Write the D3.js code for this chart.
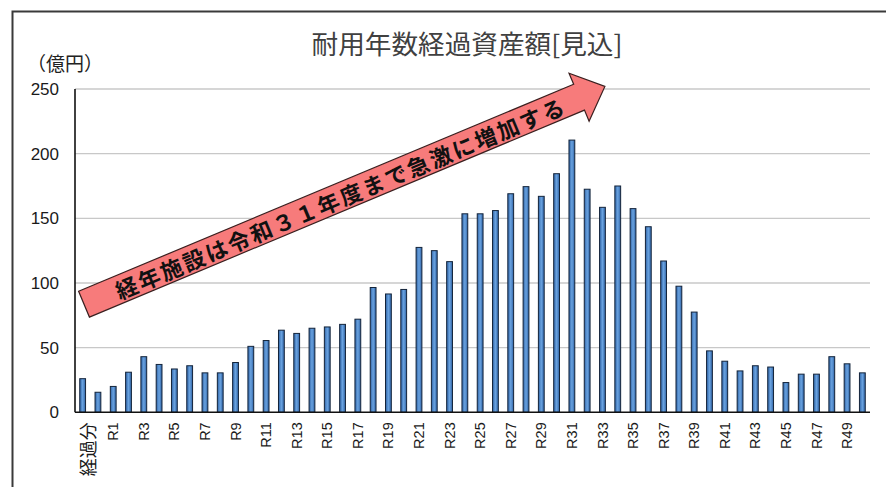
<!DOCTYPE html>
<html><head><meta charset="utf-8">
<script src="https://cdn.jsdelivr.net/npm/d3@7/dist/d3.min.js"></script>
<style>
html,body{margin:0;padding:0;background:#fff;}
svg{display:block;}
</style>
</head><body>
<svg id="chart" width="886" height="487"></svg>
<script>
// ---- data ----
const categories = ["経過分","H30"].concat(d3.range(1, 51).map(i => "R" + i));
const values = [26,15.5,20,31,43,37,33.5,36,30.5,30.5,38.5,51,55.5,63.5,61,65,66,68,72,96.5,91.5,95,127.5,125,116.5,153.5,153.5,156,169,174.5,167,184.5,210.5,172.5,158.5,175,157.5,143.5,117,97.5,77.5,47.5,39.5,32,36,35,23,29.5,29.5,43,37.5,30.5];
const yTicks = [0,50,100,150,200,250];
const shownLabels = categories.filter((c, i) => i % 2 === 0);
const titleText = "耐用年数経過資産額[見込]";
const unitText = "（億円）";
const arrowText = "経年施設は令和３１年度まで急激に増加する";
// arrow endpoints in data space (band position, value)
const arrowFrom = {pos: 0.59, value: 83.6};
const arrowTo = {pos: 34.66, value: 252};

// ---- layout ----
const svg = d3.select("#chart");
const pLeft = 75, pRight = 870, pTop = 89, pBottom = 412.3;

const x = d3.scaleBand().domain(categories).range([pLeft, pRight]).paddingInner(0.62).paddingOuter(0.31);
const y = d3.scaleLinear().domain([0, 250]).range([pBottom, pTop]);
const step = x.step();
const posX = p => pLeft + p * step;

// frame
svg.append("rect").attr("x", 12.5).attr("y", 11.5).attr("width", 900).attr("height", 500)
  .attr("fill", "none").attr("stroke", "#3a3a3a").attr("stroke-width", 2);

// gradient for bars
const defs = svg.append("defs");
const grad = defs.append("linearGradient").attr("id", "barGrad").attr("x1", "0%").attr("x2", "100%").attr("y1", "0%").attr("y2", "0%");
grad.append("stop").attr("offset", "0%").attr("stop-color", "#2f63a6");
grad.append("stop").attr("offset", "50%").attr("stop-color", "#6aa3e0");
grad.append("stop").attr("offset", "100%").attr("stop-color", "#2f63a6");

// title
svg.append("text").attr("x", 467).attr("y", 42)
  .attr("text-anchor", "middle").attr("dominant-baseline", "central")
  .attr("font-family", "'Noto Sans CJK JP', sans-serif").attr("font-size", 26)
  .attr("textLength", 311).attr("lengthAdjust", "spacingAndGlyphs")
  .attr("fill", "#404040").text(titleText);

// unit
svg.append("text").attr("x", 27).attr("y", 62)
  .attr("dominant-baseline", "central")
  .attr("font-family", "'Noto Sans CJK JP', sans-serif").attr("font-size", 19)
  .attr("fill", "#222").text(unitText);

// gridlines
svg.append("g").selectAll("line").data(yTicks.filter(d => d > 0)).join("line")
  .attr("x1", pLeft).attr("x2", pRight)
  .attr("y1", d => y(d)).attr("y2", d => y(d))
  .attr("stroke", "#c8c8c8").attr("stroke-width", 1.3);

// y axis labels
const yAxis = d3.axisLeft(y).tickValues(yTicks).tickSize(0).tickPadding(16);
const yg = svg.append("g").attr("transform", `translate(${pLeft},0)`).call(yAxis);
yg.select(".domain").remove();
yg.selectAll("text").attr("font-family", "'Liberation Sans', Arial, sans-serif")
  .attr("font-size", 17).attr("fill", "#1a1a1a");

// bars
svg.append("g").selectAll("rect").data(values).join("rect")
  .attr("x", (d, i) => x(categories[i]))
  .attr("width", x.bandwidth())
  .attr("y", d => y(d))
  .attr("height", d => y(0) - y(d))
  .attr("fill", "url(#barGrad)")
  .attr("stroke", "#14243a").attr("stroke-width", 1);

// axes lines
svg.append("line").attr("x1", pLeft).attr("x2", pLeft).attr("y1", pTop).attr("y2", pBottom)
  .attr("stroke", "#111").attr("stroke-width", 1.6);
svg.append("line").attr("x1", pLeft).attr("x2", pRight).attr("y1", pBottom).attr("y2", pBottom)
  .attr("stroke", "#111").attr("stroke-width", 1.6);

// x axis labels (rotated)
const xAxis = d3.axisBottom(x).tickValues(shownLabels).tickSize(0).tickPadding(0);
const xg = svg.append("g").attr("transform", `translate(0,${pBottom})`).call(xAxis);
xg.select(".domain").remove();
xg.selectAll("text")
  .attr("font-family", "'Liberation Sans', Arial, 'Noto Sans CJK JP', sans-serif")
  .attr("font-size", d => d === "経過分" ? 18 : 14.5)
  .attr("fill", "#1a1a1a")
  .attr("text-anchor", "end")
  .attr("transform", "rotate(-90)")
  .attr("x", -10).attr("y", d => d === "経過分" ? 6 : 0).attr("dy", "0.35em");

// arrow annotation
const ax0 = posX(arrowFrom.pos), ay0 = y(arrowFrom.value);
const ax1 = posX(arrowTo.pos), ay1 = y(arrowTo.value);
const L = Math.hypot(ax1 - ax0, ay1 - ay0);
const ang = Math.atan2(ay1 - ay0, ax1 - ax0) * 180 / Math.PI;
const sw = 14, hl = 28, hw = 26;
const ag = svg.append("g").attr("transform", `translate(${ax0},${ay0}) rotate(${ang})`);
ag.append("path")
  .attr("d", `M0,${-sw} L${L - hl},${-sw} L${L - hl},${-hw} L${L},0 L${L - hl},${hw} L${L - hl},${sw} L0,${sw} Z`)
  .attr("fill", "#f77b7b").attr("stroke", "#3a1f1f").attr("stroke-width", 1.2).attr("stroke-linejoin", "miter");
ag.append("text").attr("x", 276.5).attr("y", 0)
  .attr("text-anchor", "middle").attr("dominant-baseline", "central")
  .attr("font-family", "'Noto Sans CJK JP', sans-serif").attr("font-weight", "bold")
  .attr("font-size", 22).attr("fill", "#111")
  .attr("textLength", 484).attr("lengthAdjust", "spacing")
  .text(arrowText);
</script>
</body></html>
